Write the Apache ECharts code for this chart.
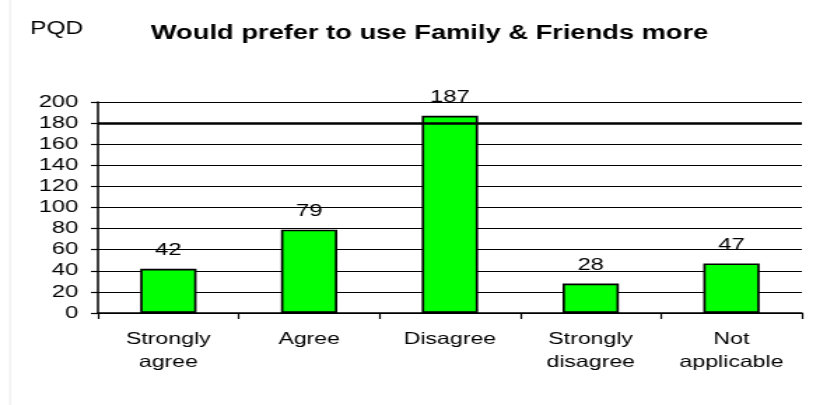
<!DOCTYPE html>
<html>
<head>
<meta charset="utf-8">
<script src="https://cdn.jsdelivr.net/npm/echarts@6/dist/echarts.min.js"></script>
<style>
  html, body { margin: 0; padding: 0; background: #ffffff; overflow: hidden; }
  /* The chart is laid out narrow and widened to 827px, giving the wide lettering */
  #chart { width: 591px; height: 405px; transform: scaleX(1.3994); transform-origin: 0 0; }
</style>
</head>
<body>
<div id="chart"></div>
<script>
// Survey responses: "Would prefer to use Family & Friends more"
const categories = ['Strongly\nagree', 'Agree', 'Disagree', 'Strongly\ndisagree', 'Not\napplicable'];
const counts = [42, 79, 187, 28, 47];
const yTicks = { min: 0, max: 200, interval: 20 };

const FONT = '"Liberation Sans", Arial, sans-serif';
const chart = echarts.init(document.getElementById('chart'));

chart.setOption({
  backgroundColor: '#ffffff',
  animation: false,
  title: [
    {
      text: 'Would prefer to use Family & Friends more',
      left: 307, top: 24, textAlign: 'center', padding: 0,
      textStyle: { fontFamily: FONT, fontSize: 19.5, fontWeight: 'bold', color: '#000' }
    },
    {
      text: 'PQD',
      left: 21.5, top: 20, padding: 0,
      textStyle: { fontFamily: FONT, fontSize: 17.5, fontWeight: 'normal', color: '#000' }
    }
  ],
  graphic: [
    {
      type: 'line', silent: true,
      shape: { x1: 7.2, y1: 0, x2: 7.2, y2: 405 },
      style: { stroke: '#e6e6e6', lineWidth: 0.8 }
    }
  ],
  grid: { left: 70, right: 18, top: 102, bottom: 92 },
  xAxis: {
    type: 'category',
    data: categories,
    axisLine: { lineStyle: { color: '#000', width: 1.5 } },
    axisTick: { show: true, inside: false, length: 6, lineStyle: { color: '#000', width: 1.2 } },
    axisLabel: { fontFamily: FONT, fontSize: 16.5, color: '#000', margin: 15, lineHeight: 23 }
  },
  yAxis: {
    type: 'value',
    min: yTicks.min, max: yTicks.max, interval: yTicks.interval,
    axisLine: { show: true, lineStyle: { color: '#000', width: 1.5 } },
    axisTick: { show: true, length: 5, lineStyle: { color: '#000', width: 1.2 } },
    axisLabel: { fontFamily: FONT, fontSize: 17, color: '#000', margin: 14 },
    splitLine: { show: true, lineStyle: { color: '#000', width: 1.2 } }
  },
  series: [{
    type: 'bar',
    data: counts,
    barWidth: '40%',
    itemStyle: { color: '#00ff00', borderColor: '#000', borderWidth: 1.7 },
    label: {
      show: true, position: 'top', distance: 10,
      fontFamily: FONT, fontSize: 17, color: '#000'
    },
    markLine: {
      silent: true, symbol: 'none', label: { show: false },
      lineStyle: { color: '#000', width: 2.5, type: 'solid' },
      data: [{ yAxis: 180 }]
    }
  }]
});
</script>
</body>
</html>
